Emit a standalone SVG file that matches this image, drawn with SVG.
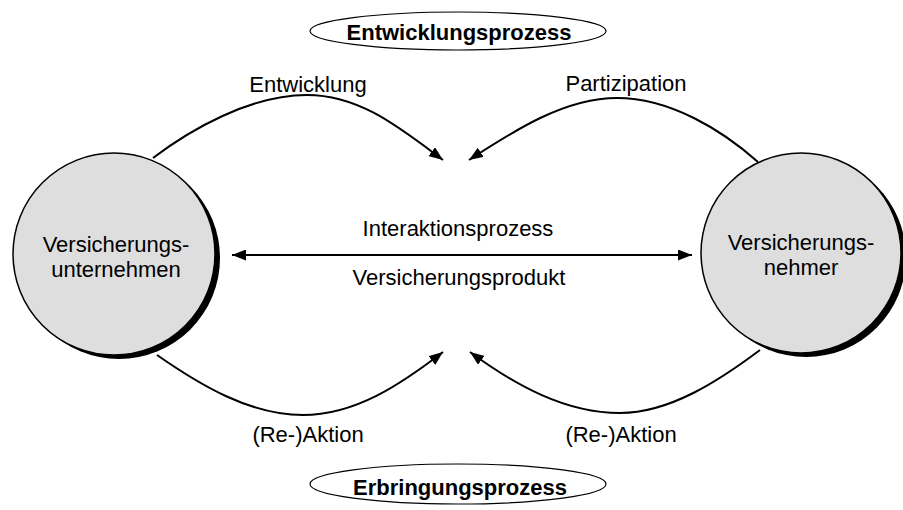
<svg xmlns="http://www.w3.org/2000/svg" width="903" height="510" viewBox="0 0 903 510">
  <style>
    text { font-family: "Liberation Sans", Arial, sans-serif; font-size: 22px; fill: #000; text-anchor: middle; }
    .bold { font-weight: bold; }
    .actor-shadow { fill: #000; }
    .actor { fill: #dedede; stroke: #000; stroke-width: 1.5; }
    .process { fill: #fff; stroke: #000; stroke-width: 1.2; }
    .flow { fill: none; stroke: #000; stroke-width: 2; }
  </style>
  <defs>
    <marker id="head" markerUnits="userSpaceOnUse" markerWidth="15" markerHeight="11" refX="14" refY="5.5" orient="auto-start-reverse">
      <path d="M0,0 L14,5.5 L0,11 z" fill="#000"/>
    </marker>
  </defs>

  <rect width="903" height="510" fill="#fff"/>

  <!-- process labels -->
  <g id="entwicklungsprozess">
    <ellipse class="process" cx="458" cy="31" rx="148" ry="19"/>
    <text class="bold" x="459" y="40">Entwicklungsprozess</text>
  </g>
  <g id="erbringungsprozess">
    <ellipse class="process" cx="458" cy="484" rx="148" ry="20"/>
    <text class="bold" x="460" y="495">Erbringungsprozess</text>
  </g>

  <!-- actors -->
  <g id="versicherungsunternehmen">
    <circle class="actor-shadow" cx="119" cy="258" r="101"/>
    <circle class="actor" cx="114" cy="254" r="101"/>
    <text x="116" y="252">Versicherungs-</text>
    <text x="116" y="277">unternehmen</text>
  </g>
  <g id="versicherungsnehmer">
    <circle class="actor-shadow" cx="806" cy="257" r="100"/>
    <circle class="actor" cx="801" cy="253" r="100"/>
    <text x="801" y="250">Versicherungs-</text>
    <text x="801" y="275">nehmer</text>
  </g>

  <!-- connectors -->
  <g id="connectors">
    <path class="flow" d="M153,158 C190,130 250,95 307,95 C360,95 400,128 443,160" marker-end="url(#head)"/>
    <path class="flow" d="M758,162 C722,130 670,98 617,98 C565,98 515,130 469,160" marker-end="url(#head)"/>
    <path class="flow" d="M157,355 C200,385 250,415 303,415 C355,415 400,385 443,352" marker-end="url(#head)"/>
    <path class="flow" d="M760,350 C720,380 670,413 620,413 C565,413 515,385 470,352" marker-end="url(#head)"/>
    <path class="flow" d="M232,255 L692,255" marker-start="url(#head)" marker-end="url(#head)"/>
  </g>

  <!-- connector labels -->
  <g id="labels">
    <text x="308" y="92">Entwicklung</text>
    <text x="626" y="91">Partizipation</text>
    <text x="458" y="236">Interaktionsprozess</text>
    <text x="459" y="285">Versicherungsprodukt</text>
    <text x="308" y="442">(Re-)Aktion</text>
    <text x="621" y="442">(Re-)Aktion</text>
  </g>
</svg>
